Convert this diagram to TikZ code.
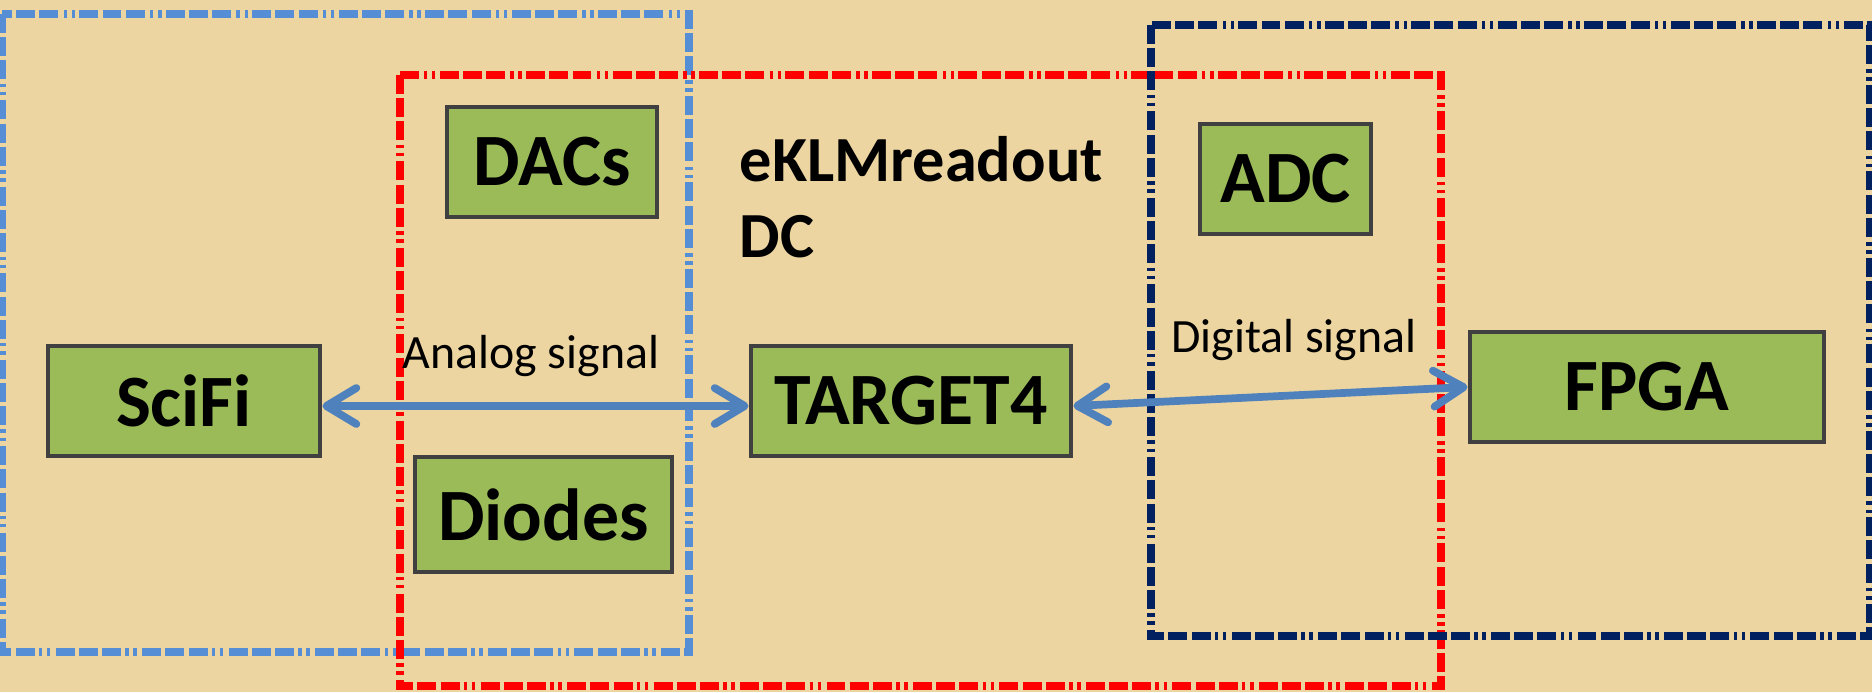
\documentclass[tikz,border=0pt]{standalone}
\usepackage{fontspec}
\setmainfont{Carlito}
\definecolor{papyrus}{RGB}{236,213,160}
\definecolor{boxgreen}{RGB}{155,187,89}
\definecolor{boxedge}{RGB}{64,64,64}
\definecolor{frameblue}{RGB}{85,142,213}
\definecolor{framered}{RGB}{255,0,0}
\definecolor{framenavy}{RGB}{0,32,96}
\definecolor{linkblue}{RGB}{79,129,189}
\usetikzlibrary{positioning,calc,arrows.meta}

\begin{document}
\begin{tikzpicture}[
    block/.style={draw=boxedge, line width=1.4pt, fill=boxgreen,
        font=\fontsize{21}{24}\selectfont\bfseries, inner sep=0pt,
        minimum height=1.10cm},
    frame/.style={line width=2.1pt,
        dash pattern=on 5.4pt off 1.2pt on 5.4pt off 1.2pt on 5.4pt off 1.2pt
            on 1pt off 1.3pt on 1pt off 1.5pt},
    link/.style={linkblue, line width=2.2pt, line cap=round,
        {Straight Barb[length=3mm,width=3.6mm,round]}-{Straight Barb[length=3mm,width=3.6mm,round]}},
    tag/.style={font=\fontsize{13.6}{16}\selectfont}
]
    % Background
    \fill[papyrus] (0,0) rectangle (18.72,6.92);
    \useasboundingbox (0,0) rectangle (18.72,6.92);

    % Frames
    \draw[frame, frameblue] (0.02,6.78) rectangle (6.89,0.40);
    \draw[frame, framered] (4.00,6.17) rectangle (14.41,0.06);
    \draw[frame, framenavy] (11.51,6.67) rectangle (18.70,0.56);

    % Blocks
    \node[block, minimum width=2.72cm] (scifi) at (1.84,2.91) {SciFi};
    \node[block, minimum width=3.20cm] (target) at (9.11,2.91) {TARGET4};
    \node[block, minimum width=3.54cm] (fpga) at (16.47,3.05) {FPGA};
    \node[block, minimum width=2.10cm] (dacs) at (5.52,5.30) {DACs};
    \node[block, minimum width=2.57cm, minimum height=1.15cm] (diodes) at (5.435,1.775) {Diodes};
    \node[block, minimum width=1.71cm] (adc) at (12.855,5.13) {ADC};

    % Board name
    \node[anchor=west, align=left, inner sep=0pt,
        font=\fontsize{18.3}{21.6}\selectfont\bfseries] (board) at (7.39,4.95)
        {eKLMreadout\\DC};

    % Signals
    \draw[link] ($(scifi.east)+(0,-0.05)$) -- ($(target.west)+(0,-0.05)$);
    \draw[link] ($(target.east)+(0,-0.05)$) -- (fpga.west);
    \node[tag] (analog) at (5.31,3.36) {Analog signal};
    \node[tag] (digital) at (12.94,3.52) {Digital signal};
\end{tikzpicture}
\end{document}
